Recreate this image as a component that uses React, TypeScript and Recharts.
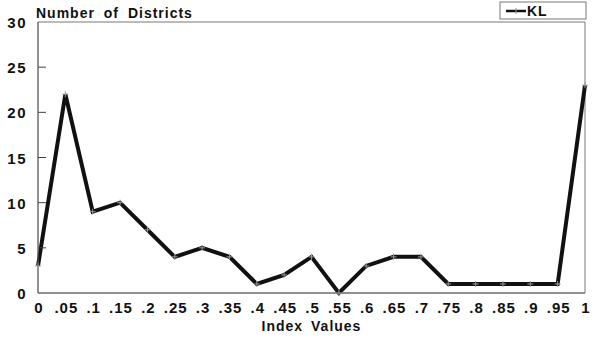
import React from 'react';
import { LineChart, Line, XAxis, YAxis, ReferenceArea } from 'recharts';

const categories = ['0', '.05', '.1', '.15', '.2', '.25', '.3', '.35', '.4', '.45', '.5', '.55', '.6', '.65', '.7', '.75', '.8', '.85', '.9', '.95', '1'];
const klValues = [3, 22, 9, 10, 7, 4, 5, 4, 1, 2, 4, 0, 3, 4, 4, 1, 1, 1, 1, 1, 23];
const yTicks = [0, 5, 10, 15, 20, 25, 30];

const data = categories.map((c, i) => ({ idx: c, KL: klValues[i] }));

const FONT = '"Liberation Sans", Arial, sans-serif';

const YTick = (props: any) => {
  const { x, y, payload } = props;
  return (
    <g>
      <text x={x - 1} y={y} dy={6} textAnchor="end" fontFamily={FONT} fontWeight="bold" fontSize={15} letterSpacing={1.5} fill="#111">
        {payload.value}
      </text>
      {payload.value !== 0 && payload.value !== 30 && (
        <line x1={x + 10} x2={x + 18} y1={y} y2={y} stroke="#444" strokeWidth={1} />
      )}
    </g>
  );
};

const XTick = (props: any) => {
  const { x, y, payload } = props;
  return (
    <text x={x + 1} y={y} dy={16} textAnchor="middle" fontFamily={FONT} fontWeight="bold" fontSize={15} letterSpacing={1} fill="#111">
      {payload.value}
    </text>
  );
};

const PlusDot = (props: any) => {
  const { cx, cy } = props;
  if (cx == null || cy == null) return null;
  return (
    <g>
      <line x1={cx - 3} x2={cx + 3} y1={cy} y2={cy} stroke="#999" strokeWidth={1} />
      <line x1={cx} x2={cx} y1={cy - 3} y2={cy + 3} stroke="#999" strokeWidth={1} />
    </g>
  );
};

export default function App() {
  return (
    <div style={{ position: 'absolute', left: 0, top: 0, width: 600, height: 341, background: '#fff' }}>
      <LineChart width={600} height={341} data={data} margin={{ top: 22, right: 15, bottom: 6, left: 0 }}>
        <XAxis
          dataKey="idx"
          height={42}
          tick={<XTick />}
          tickLine={false}
          axisLine={{ stroke: '#666', strokeWidth: 1 }}
          tickSize={2}
          tickMargin={2}
          interval={0}
          label={{ value: 'Index Values', position: 'insideBottom', offset: 4, fontFamily: FONT, fontWeight: 'bold', fontSize: 14, letterSpacing: 1, wordSpacing: 3, fill: '#111' }}
        />
        <YAxis
          width={38}
          domain={[0, 30]}
          ticks={yTicks}
          interval={0}
          tick={<YTick />}
          tickLine={false}
          tickSize={8}
          tickMargin={2}
          axisLine={{ stroke: '#666', strokeWidth: 1 }}
        />
        <ReferenceArea x1="0" x2="1" y1={0} y2={30} fill="none" stroke="#777" strokeWidth={1} ifOverflow="visible" />
        <Line
          type="linear"
          dataKey="KL"
          stroke="#111"
          strokeWidth={4}
          dot={<PlusDot />}
          activeDot={false}
          isAnimationActive={false}
        />
        <text x={36} y={18} fontFamily={FONT} fontWeight="bold" fontSize={14} letterSpacing={1} wordSpacing={4} fill="#111">
          Number of Districts
        </text>
        <g>
          <rect x={500} y={2} width={86} height={17} fill="#fff" stroke="#777" strokeWidth={1} />
          <line x1={506} x2={526} y1={11} y2={11} stroke="#111" strokeWidth={2.5} />
          <line x1={516} x2={516} y1={8} y2={14} stroke="#999" strokeWidth={1} />
          <text x={527} y={16} fontFamily={FONT} fontWeight="bold" fontSize={14} letterSpacing={1} fill="#111">
            KL
          </text>
        </g>
      </LineChart>
    </div>
  );
}
